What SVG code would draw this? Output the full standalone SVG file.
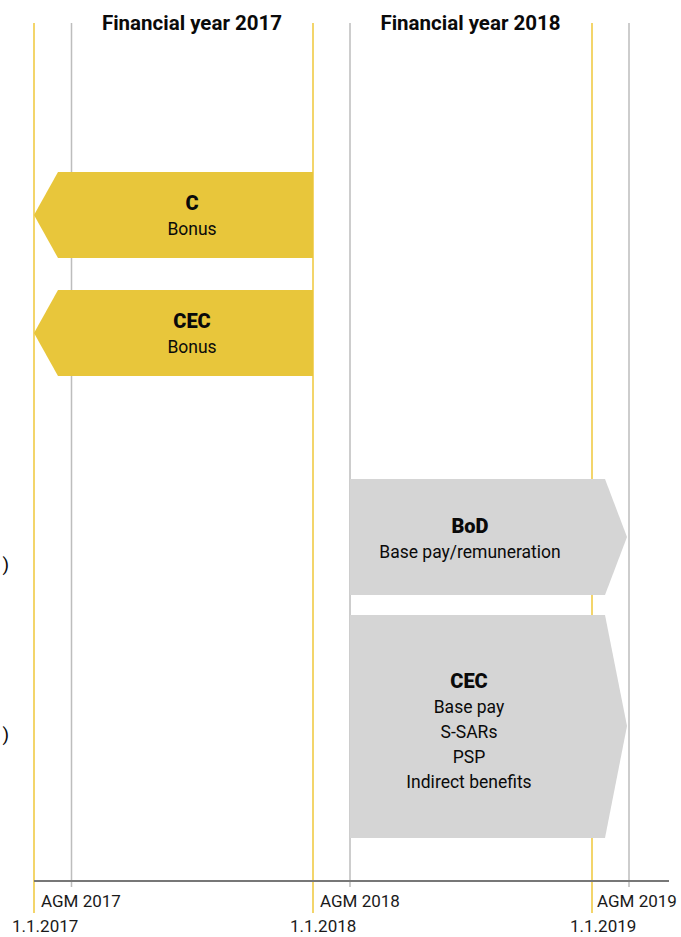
<svg xmlns="http://www.w3.org/2000/svg" width="681" height="937" viewBox="0 0 681 937">
<style>
.bg{fill:#ffffff}
.yl{stroke:#EFC73A;stroke-width:1.5}
.gl{stroke:#BDBDBD;stroke-width:1.5}
.axis{stroke:#777777;stroke-width:2}
.yarrow{fill:#E8C63B}
.garrow{fill:#D5D5D5}
text{font-family:Roboto,"Liberation Sans",Arial,sans-serif;fill:#0a0a0a}
.hdr{font-size:20.5px;font-weight:700;text-anchor:middle}
.ttl{font-size:20px;font-weight:900;text-anchor:middle}
.lbl{font-size:17.5px;font-weight:400;text-anchor:middle}
.ax{font-size:17px;font-weight:400;fill:#1a1a1a}
</style>
<rect class="bg" x="0" y="0" width="681" height="937"/>
<g id="gridlines">
<line class="gl" x1="71.5" y1="23" x2="71.5" y2="887"/>
<line class="gl" x1="350" y1="23" x2="350" y2="887"/>
<line class="gl" x1="629" y1="23" x2="629" y2="887"/>
<line class="yl" x1="34" y1="23" x2="34" y2="913"/>
<line class="yl" x1="313" y1="23" x2="313" y2="913"/>
<line class="yl" x1="592" y1="23" x2="592" y2="913"/>
<line class="axis" x1="34" y1="881" x2="669" y2="881"/>
</g>
<g id="headers">
<text class="hdr" x="192" y="30">Financial year 2017</text>
<text class="hdr" x="470.5" y="30">Financial year 2018</text>
</g>
<g id="node-c-bonus">
<polygon class="yarrow" points="58,172 313,172 313,258 58,258 34,215"/>
<text class="ttl" x="192" y="210">C</text>
<text class="lbl" x="192" y="235">Bonus</text>
</g>
<g id="node-cec-bonus">
<polygon class="yarrow" points="58,290 313,290 313,376 58,376 34,333"/>
<text class="ttl" x="192" y="328">CEC</text>
<text class="lbl" x="192" y="353">Bonus</text>
</g>
<g id="node-bod">
<polygon class="garrow" points="350,479 605,479 627,537 605,595 350,595"/>
<text class="ttl" x="470" y="533">BoD</text>
<text class="lbl" x="470" y="558">Base pay/remuneration</text>
</g>
<g id="node-cec-fixed">
<polygon class="garrow" points="350,615 605,615 627,726 605,838 350,838"/>
<text class="ttl" x="469" y="688">CEC</text>
<text class="lbl" x="469" y="713">Base pay</text>
<text class="lbl" x="469" y="738">S-SARs</text>
<text class="lbl" x="469" y="763">PSP</text>
<text class="lbl" x="469" y="788">Indirect benefits</text>
</g>
<g id="left-labels">
<text class="lbl" x="9" y="571" style="text-anchor:end;font-size:19px">)</text>
<text class="lbl" x="9" y="741" style="text-anchor:end;font-size:19px">)</text>
</g>
<g id="axis-labels">
<text class="ax" x="41" y="907">AGM 2017</text>
<text class="ax" x="320" y="907">AGM 2018</text>
<text class="ax" x="597" y="907">AGM 2019</text>
<text class="ax" x="12" y="932">1.1.2017</text>
<text class="ax" x="290" y="932">1.1.2018</text>
<text class="ax" x="570" y="932">1.1.2019</text>
</g>
<g id="connectors"></g>
</svg>
